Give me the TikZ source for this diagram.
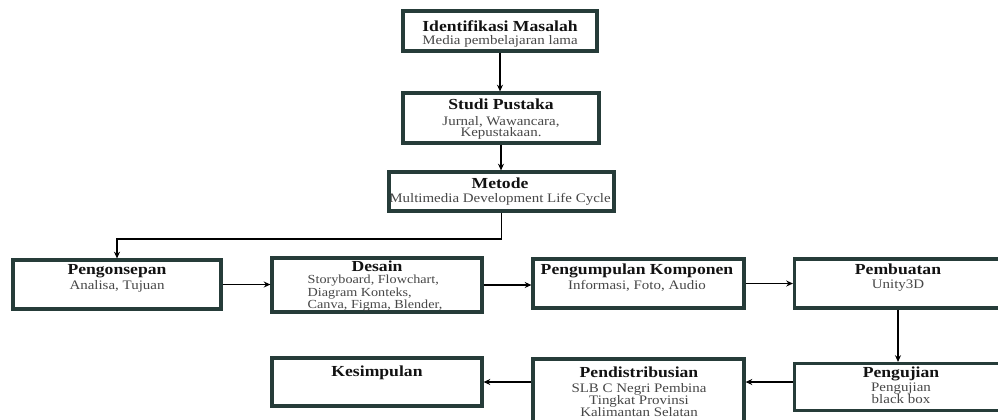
\documentclass[tikz,border=0pt]{standalone}
\usepackage{fontspec}
\setmainfont{Liberation Serif}[FakeStretch=1.15]
\usepackage{xcolor}
\usepackage{tikz}
\usetikzlibrary{arrows.meta}
\definecolor{color_garis}{rgb}{0.149,0.235,0.224}
\definecolor{color_judul}{rgb}{0.07,0.07,0.07}
\definecolor{color_isi}{rgb}{0.28,0.28,0.28}

\tikzset{
	kotak/.style 2 args={draw=color_garis, line width=2.4pt, fill=white, minimum width=#1*0.75pt, minimum height=#2*0.75pt, inner sep=0pt},
	judul/.style={anchor=base, inner sep=0pt, font=\fontsize{11.5}{13}\selectfont\bfseries, text=color_judul},
	isi/.style={anchor=north, inner sep=0pt, align=center, font=\fontsize{9.75}{8.75}\selectfont, text=color_isi},
	panah/.style={-{Stealth[length=5pt,width=4.5pt]}, line width=1.4pt, black}
}

\begin{document}
\begin{tikzpicture}[x=0.75pt, y=-0.75pt]
			% Batas gambar
			\useasboundingbox (0,0) rectangle (998,419);
			
			% Kotak tahapan
			\node[kotak={194}{40}] (identifikasi) at (500,31) {};
			\node[kotak={196}{50}] (studi) at (501,118) {};
			\node[kotak={225}{39}] (metode) at (501.5,191.5) {};
			\node[kotak={208}{49}] (konsep) at (117,284.5) {};
			\node[kotak={210}{54}] (desain) at (377,285) {};
			\node[kotak={211}{49}] (komponen) at (638.5,283.5) {};
			\node[kotak={207}{49}] (pembuatan) at (898,283.5) {};
			\node[kotak={207}{47}] (pengujian) at (898,387) {};
			\node[kotak={211}{64}] (distribusi) at (638.5,391) {};
			\node[kotak={210}{48}] (simpulan) at (377,382) {};
			
			% Judul dan isi
			\node[judul] (identifikasi-j) at (500,31) {Identifikasi Masalah};
			\node[isi] (identifikasi-i) at (500,35) {Media pembelajaran lama};
			\node[judul] (studi-j) at (501,109) {Studi Pustaka};
			\node[isi] (studi-i) at (501,116) {Jurnal, Wawancara,\\Kepustakaan.};
			\node[judul] (metode-j) at (500,188) {Metode};
			\node[isi] (metode-i) at (500,193) {Multimedia Development Life Cycle};
			\node[judul] (konsep-j) at (117,274) {Pengonsepan};
			\node[isi] (konsep-i) at (117,280) {Analisa, Tujuan};
			\node[judul] (desain-j) at (377,271) {Desain};
			\node[isi, align=left, font=\fontsize{9.25}{7.5}\selectfont] (desain-i) at (375,275) {Storyboard, Flowchart,\\Diagram Konteks,\\Canva, Figma, Blender,};
			\node[judul] (komponen-j) at (637,274) {Pengumpulan Komponen};
			\node[isi] (komponen-i) at (637,280) {Informasi, Foto, Audio};
			\node[judul] (pembuatan-j) at (898,274) {Pembuatan};
			\node[isi] (pembuatan-i) at (898,280) {Unity3D};
			\node[judul] (pengujian-j) at (901,377) {Pengujian};
			\node[isi, font=\fontsize{9.75}{9}\selectfont] (pengujian-i) at (901,383) {Pengujian\\black box};
			\node[judul] (distribusi-j) at (639,377) {Pendistribusian};
			\node[isi, font=\fontsize{9.75}{9}\selectfont] (distribusi-i) at (639,383) {SLB C Negri Pembina\\Tingkat Provinsi\\Kalimantan Selatan};
			\node[judul] (simpulan-j) at (377,376) {Kesimpulan};
			
			% Alur
			\draw[panah] (identifikasi.south) -- (identifikasi.south |- studi.north);
			\draw[panah] (studi.south) -- (studi.south |- metode.north);
			\draw[panah] (metode.south) -- ++(0,26) -| (konsep.north);
			\draw[panah] (konsep.east) -- (konsep.east -| desain.west);
			\draw[panah] (desain.east) -- (desain.east -| komponen.west);
			\draw[panah] (komponen.east) -- (pembuatan.west);
			\draw[panah] (pembuatan.south) -- (pembuatan.south |- pengujian.north);
			\draw[panah] (pengujian.west |- simpulan.east) -- (distribusi.east |- simpulan.east);
			\draw[panah] (distribusi.west |- simpulan.east) -- (simpulan.east);
		\end{tikzpicture}
\end{document}
